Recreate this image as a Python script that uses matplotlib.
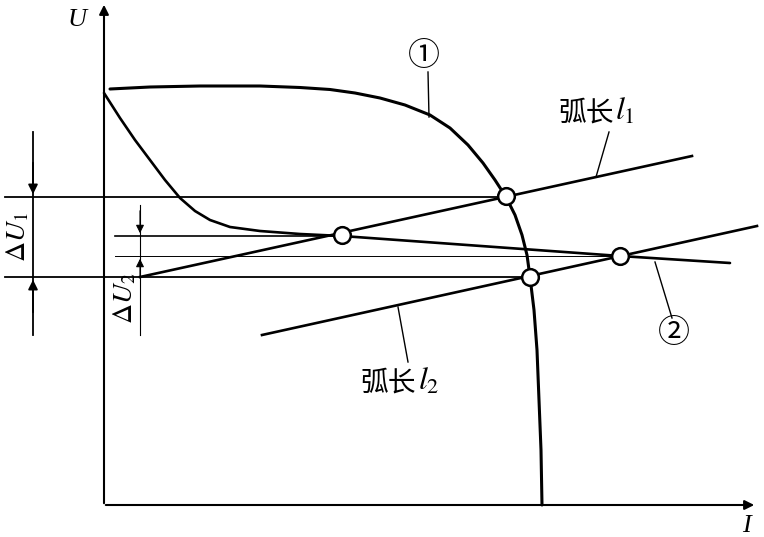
import numpy as np
import matplotlib.pyplot as plt

plt.rcParams['mathtext.fontset'] = 'stix'

# curve 1 (power source characteristic), picture coordinates
c1_x = [110, 150, 200, 260, 300, 330, 355, 380, 405, 430, 450, 468, 483, 495, 506,
        515, 522, 527, 530, 534, 537, 539, 541, 542]
c1_y = [89, 87, 86, 86, 87.5, 89.5, 93, 98, 105, 115, 128, 145, 163, 180, 197,
        215, 235, 255, 277, 310, 350, 400, 450, 505]
# curve 2
c2_x = [104, 120, 135, 150, 165, 180, 195, 210, 230, 260, 300, 342, 620, 730]
c2_y = [93, 118, 140, 160, 180, 198, 211, 220, 227, 231, 234, 236, 256, 263]
# arc length lines
l1_x = [140, 692]
l1_y = [277, 156]
l2_x = [262, 757]
l2_y = [335, 226]
# operating points
pt_x = [506, 342, 620, 530]
pt_y = [196, 235, 256, 277]

fig = plt.figure(figsize=(7.64, 5.37), dpi=100)
ax = fig.add_axes([0, 0, 1, 1])
ax.set_xlim(0, 764)
ax.set_ylim(537, 0)
ax.axis('off')

k = 'black'
cjk = ['Noto Sans CJK SC', 'DejaVu Sans']
# axes with arrows
ax.annotate('', xy=(104, 2), xytext=(104, 506),
            arrowprops=dict(arrowstyle='-|>', color=k, lw=1.5, mutation_scale=14))
ax.annotate('', xy=(757, 505), xytext=(103, 505),
            arrowprops=dict(arrowstyle='-|>', color=k, lw=1.5, mutation_scale=14))
ax.text(77, 20, 'U', fontsize=19, fontstyle='italic', family='Liberation Serif',
        ha='center', va='center')
ax.text(746, 526, 'I', fontsize=19, fontstyle='italic', family='Liberation Serif',
        ha='center', va='center')

# horizontal reference lines
ax.plot([5, 506], [197, 197], color=k, lw=1.3)
ax.plot([5, 530], [277, 277], color=k, lw=1.3)
ax.plot([115, 342], [236, 236], color=k, lw=1.2)
ax.plot([115, 620], [256, 256], color=k, lw=0.7)

# curves
ax.plot(c1_x, c1_y, color=k, lw=2.2, solid_capstyle='round', solid_joinstyle='round')
ax.plot(c2_x, c2_y, color=k, lw=1.9, solid_capstyle='round', solid_joinstyle='round')
ax.plot(l1_x, l1_y, color=k, lw=1.9)
ax.plot(l2_x, l2_y, color=k, lw=1.9)
ax.plot(pt_x, pt_y, 'o', ms=12, mfc='white', mec=k, mew=1.8, zorder=5)

# delta U1 dimension
ax.plot([33, 33], [132, 335], color=k, lw=1.3)
ax.annotate('', xy=(33, 197), xytext=(33, 160),
            arrowprops=dict(arrowstyle='-|>', color=k, lw=1.3, mutation_scale=14))
ax.annotate('', xy=(33, 277), xytext=(33, 315),
            arrowprops=dict(arrowstyle='-|>', color=k, lw=1.3, mutation_scale=14))
ax.text(17, 237, r'$\Delta U_1$', fontsize=20, rotation=90, ha='center', va='center')

# delta U2 dimension
ax.plot([140, 140], [205, 335], color=k, lw=0.8)
ax.annotate('', xy=(140, 236), xytext=(140, 208),
            arrowprops=dict(arrowstyle='-|>', color=k, lw=0.8, mutation_scale=12))
ax.annotate('', xy=(140, 256), xytext=(140, 280),
            arrowprops=dict(arrowstyle='-|>', color=k, lw=0.8, mutation_scale=12))
ax.text(124, 298, r'$\Delta U_2$', fontsize=20, rotation=90, ha='center', va='center')

# leaders and labels
ax.plot([428, 429], [72, 117], color=k, lw=1.0)
ax.text(424, 56, '①', fontsize=23, family=cjk, ha='center', va='center')
ax.plot([609, 596], [132, 177], color=k, lw=1.0)
ax.text(558, 113, '弧长', fontsize=20, family=cjk, ha='left', va='center')
ax.text(615, 111, r'$l_1$', fontsize=23, ha='left', va='center')
ax.plot([655, 672], [262, 318], color=k, lw=1.0)
ax.text(674, 333, '②', fontsize=23, family=cjk, ha='center', va='center')
ax.plot([398, 408], [307, 362], color=k, lw=1.0)
ax.text(361, 383, '弧长', fontsize=20, family=cjk, ha='left', va='center')
ax.text(418, 381, r'$l_2$', fontsize=23, ha='left', va='center')

fig.savefig('out.png', dpi=100)
